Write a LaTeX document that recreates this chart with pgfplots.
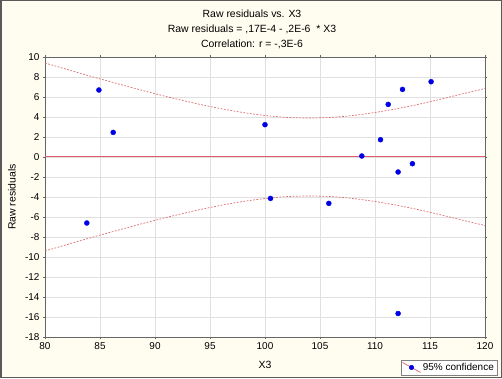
\documentclass[border=0pt]{standalone}
\usepackage{fontspec}
\setmainfont{Liberation Sans}
\usepackage{pgfplots}
\pgfplotsset{compat=1.18}
\definecolor{bgc}{HTML}{FFFDF0}
\definecolor{ptc}{HTML}{0000E6}
\definecolor{bandc}{HTML}{DD6E6E}
\definecolor{zerocol}{RGB}{226,90,110}
\begin{document}
\begin{tikzpicture}[x=1bp,y=1bp]
\fill[bgc] (0,0) rectangle (502,378);
\draw[black!65, line width=1.5bp] (0.75,0.75) rectangle (501.25,377.25);
\path[use as bounding box] (0,0) rectangle (502,378);
\node[font=\fontsize{10.5}{12}\selectfont] at (252,364) {Raw residuals vs. X3};
\node[font=\fontsize{10.5}{12}\selectfont] at (252,348.7) {Raw residuals = ,17E-4 - ,2E-6\ \ * X3};
\node[font=\fontsize{10.5}{12}\selectfont] at (252,333.5) {Correlation: r = -,3E-6};
\begin{axis}[
  at={(45bp,41bp)}, anchor=south west,
  scale only axis, width=440bp, height=280bp,
  xmin=80, xmax=120, ymin=-18, ymax=10,
  xtick={80,85,...,120}, ytick={-18,-16,...,10},
  grid=major, major grid style={black!12},
  axis line style={black!60},
  tick align=outside, major tick length=2bp, tick style={black!60},
  ticklabel style={font=\fontsize{10}{12}\selectfont},
  /pgf/number format/assume math mode=true,
  label style={font=\fontsize{10.5}{12}\selectfont},
  xlabel={X3}, ylabel={Raw residuals},
  xlabel style={at={(axis description cs:0.5,-0.1)}, anchor=center},
  ylabel style={at={(axis description cs:-0.075,0.5)}, anchor=center},
  axis background/.style={fill=white},
  legend style={at={(rel axis cs:1,0)}, anchor=south east, xshift=12bp, yshift=-38bp,
    draw=black!50, fill=white, font=\fontsize{10}{12}\selectfont, inner sep=1bp, row sep=0pt},
  legend cell align=left,
]
\addplot[color=zerocol, solid, line width=1bp, no markers, forget plot] coordinates {(80,0.001) (120,0.001)};
\addplot[draw=bandc, line width=0.7bp, dash pattern=on 1.8bp off 1.5bp, smooth, forget plot] coordinates {
(80,9.40) (82,8.76) (84,8.12) (86,7.51) (88,6.91) (90,6.33) (92,5.79) (94,5.28) (96,4.83) (98,4.45) (100,4.15) (102,3.96) (104,3.90) (106,3.96) (108,4.15) (110,4.45) (112,4.83) (114,5.28) (116,5.79) (118,6.33) (120,6.85)};
\addplot[draw=bandc, line width=0.7bp, dash pattern=on 1.8bp off 1.5bp, smooth, forget plot] coordinates {
(80,-9.40) (82,-8.76) (84,-8.12) (86,-7.51) (88,-6.91) (90,-6.33) (92,-5.79) (94,-5.28) (96,-4.83) (98,-4.45) (100,-4.15) (102,-3.96) (104,-3.90) (106,-3.96) (108,-4.15) (110,-4.45) (112,-4.83) (114,-5.28) (116,-5.79) (118,-6.33) (120,-6.85)};
\addplot[only marks, mark=*, mark size=2.5bp, mark options={fill=ptc, draw=ptc},
  legend image code/.code={\draw[bandc, line width=0.8bp] (-2bp,5bp) -- (16bp,-5bp); \fill[ptc] (7bp,0bp) circle (2.3bp);}]
coordinates {
(84.9,6.7) (86.2,2.46) (83.8,-6.6) (100.0,3.23) (100.5,-4.14)
(115.1,7.53) (112.5,6.76) (111.2,5.26) (110.5,1.73) (108.8,0.1)
(113.4,-0.67) (112.1,-1.5) (105.8,-4.64) (112.1,-15.65)};
\addlegendentry{95\% confidence}
\end{axis}
\end{tikzpicture}
\end{document}
